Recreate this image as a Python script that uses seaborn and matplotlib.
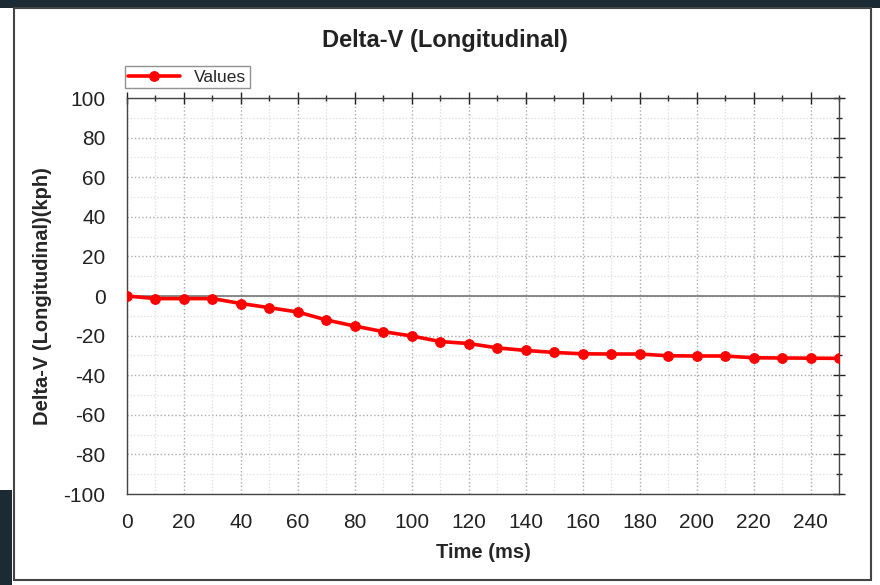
import numpy as np
import pandas as pd
import matplotlib
matplotlib.use("Agg")
import matplotlib.pyplot as plt
from matplotlib.patches import Rectangle
from matplotlib.ticker import MultipleLocator
import seaborn as sns

TITLE = "Delta-V (Longitudinal)"
XLABEL = "Time (ms)"
YLABEL = "Delta-V (Longitudinal)(kph)"
SERIES = "Values"

time_ms = [0, 10, 20, 30, 40, 50, 60, 70, 80, 90, 100, 110, 120,
           130, 140, 150, 160, 170, 180, 190, 200, 210, 220, 230, 240, 250]
delta_v = [0, -1.3, -1.3, -1.3, -3.8, -5.9, -8.1, -12.1, -15.2, -18.0, -20.2,
           -23.0, -24.0, -26.2, -27.5, -28.5, -29.2, -29.3, -29.3, -30.2,
           -30.3, -30.3, -31.2, -31.3, -31.4, -31.5]

sns.set_style("white")
plt.rcParams["font.family"] = ["Liberation Sans", "DejaVu Sans"]
plt.rcParams["axes.unicode_minus"] = False

df = pd.DataFrame({"time": time_ms, "dv": delta_v})

fig = plt.figure(figsize=(8.8, 5.85), dpi=100)
ax = fig.add_axes([127 / 880, 1 - 494 / 585, 712 / 880, 396 / 585])

# window frame and bits of the background
fig.patches.append(Rectangle((0.0, 1 - 8 / 585), 1.0, 8 / 585, transform=fig.transFigure,
                             facecolor="#1c2a33", edgecolor="none", zorder=0))
fig.patches.append(Rectangle((0, 0), 12 / 880, 95 / 585, transform=fig.transFigure,
                             facecolor="#1c2a33", edgecolor="none", zorder=0))
fig.patches.append(Rectangle((14 / 880, 5 / 585), 857 / 880, 572 / 585, transform=fig.transFigure,
                             facecolor="white", edgecolor="#444444", linewidth=1.5, zorder=1))

ax.set_zorder(2)
ax.axhline(0, color="#808080", linewidth=1.3, zorder=2)
sns.lineplot(data=df, x="time", y="dv", ax=ax, color="#ff0000", linewidth=2.6,
             marker="o", markersize=7, markeredgecolor="#ff0000", label=SERIES, zorder=3)

ax.set_xlim(0, 250)
ax.set_ylim(-100, 100)
ax.xaxis.set_major_locator(MultipleLocator(20))
ax.xaxis.set_minor_locator(MultipleLocator(10))
ax.yaxis.set_major_locator(MultipleLocator(20))
ax.yaxis.set_minor_locator(MultipleLocator(10))

ax.grid(which="major", color="#aaaaaa", linestyle=":", linewidth=1.0)
ax.grid(which="minor", color="#dddddd", linestyle=":", linewidth=0.9)

ax.tick_params(which="major", direction="inout", length=9, width=1, top=True, right=True,
               labelsize=15, colors="#222222")
ax.tick_params(which="minor", direction="inout", length=5, width=1, top=True, right=True)
ax.tick_params(axis="x", which="major", pad=9)
ax.tick_params(axis="y", which="major", pad=11)
for s in ax.spines.values():
    s.set_color("#444444")
    s.set_linewidth(1)

ax.set_xlabel(XLABEL, fontsize=14.5, fontweight="bold", labelpad=8)
ax.set_ylabel(YLABEL, fontsize=14.5, fontweight="bold", labelpad=8)
fig.text(445 / 880, 1 - 40 / 585, TITLE, ha="center", va="center",
         fontsize=17, fontweight="bold", color="#222222")

leg = ax.legend(loc="lower left", bbox_to_anchor=(-0.003, 1.025), frameon=True,
                fancybox=False, fontsize=12.5, handlelength=3.0, borderpad=0.2,
                handletextpad=0.8, borderaxespad=0)
leg.get_frame().set_edgecolor("#777777")
leg.get_frame().set_linewidth(1)

fig.savefig("out.png", dpi=100, facecolor="white")
plt.close(fig)
